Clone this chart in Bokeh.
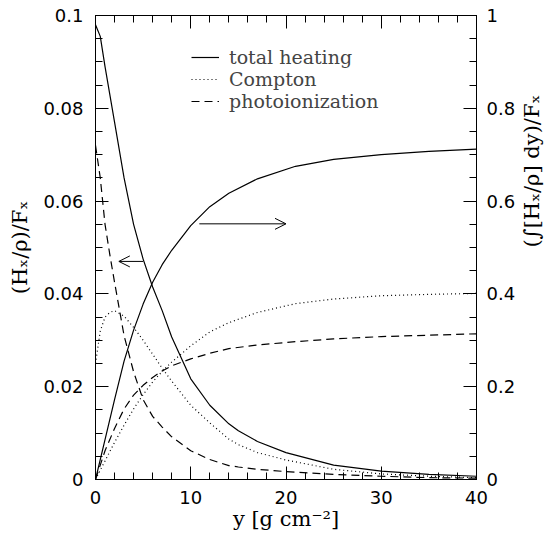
import math
from bokeh.plotting import figure
from bokeh.models import (Range1d, LinearAxis, SingleIntervalTicker, CustomJSTickFormatter,
                          Legend, LegendItem, Arrow, OpenHead)
from bokeh.embed import file_html
from bokeh.resources import INLINE

# ---- data ----
# differential heating (left axis): (H_x/rho)/F_x versus column y [g cm^-2]
y_diff = [0, 0.5, 1, 1.5, 2, 3, 4, 5, 6, 7, 8, 10, 12, 14, 15, 17, 20, 25, 30, 35, 40]
total_heating = [0.098, 0.0955, 0.089, 0.083, 0.077, 0.065, 0.055, 0.0475, 0.0415, 0.0364,
                 0.0307, 0.0217, 0.016, 0.012, 0.0105, 0.0082, 0.0058, 0.0031, 0.0018,
                 0.0011, 0.0007]
compton = [0.025, 0.032, 0.035, 0.036, 0.0364, 0.0352, 0.0328, 0.030, 0.027, 0.024,
           0.0212, 0.016, 0.0122, 0.0087, 0.0075, 0.0058, 0.0042, 0.0022, 0.0012,
           0.0007, 0.0004]
photoionization = [0.072, 0.065, 0.055, 0.0485, 0.0425, 0.031, 0.0232, 0.0172, 0.0136, 0.0113,
                   0.0092, 0.0062, 0.0043, 0.0030, 0.0027, 0.0022, 0.0017, 0.0011, 0.0007,
                   0.0004, 0.0003]

# cumulative heating (right axis)
y_cum = [0, 1, 2, 3, 4, 5, 6, 7, 8, 10, 12, 14, 17, 21, 25, 30, 35, 40]
total_cum = [0, 0.086, 0.172, 0.255, 0.322, 0.378, 0.425, 0.463, 0.494, 0.547, 0.588, 0.617,
             0.648, 0.675, 0.690, 0.700, 0.707, 0.712]
compton_cum = [0, 0.04, 0.08, 0.117, 0.152, 0.183, 0.21, 0.233, 0.253, 0.288, 0.318, 0.338,
               0.360, 0.379, 0.389, 0.396, 0.399, 0.401]
photo_cum = [0, 0.062, 0.11, 0.152, 0.182, 0.203, 0.22, 0.234, 0.245, 0.26, 0.272, 0.282,
             0.29, 0.297, 0.303, 0.308, 0.311, 0.314]

legend_labels = ["total heating", "Compton", "photoionization"]

# arrows (annotation positions)
left_arrow = dict(x_start=5.0, x_end=2.45, y=0.047)
right_arrow = dict(x_start=10.9, x_end=20.0, y=0.551)

SERIF = "DejaVu Serif"
SANS = "DejaVu Sans"

p = figure(output_backend="svg", toolbar_location=None,
           frame_width=381, frame_height=464,
           min_border_left=95, min_border_right=72, min_border_top=15, min_border_bottom=51,
           x_range=Range1d(0, 40), y_range=Range1d(0, 0.1))
p.extra_y_ranges = {"cum": Range1d(0, 1)}
p.xgrid.visible = False
p.ygrid.visible = False
p.outline_line_color = "black"
p.background_fill_color = "white"
p.border_fill_color = "white"

lw = 1.2
DOT = "1 3"
DASH = "8 5"
r_tot = p.line(y_diff, total_heating, line_color="black", line_width=lw)
r_com = p.line(y_diff, compton, line_color="black", line_width=lw, line_dash=DOT)
r_pho = p.line(y_diff, photoionization, line_color="black", line_width=lw, line_dash=DASH)
p.line(y_cum, total_cum, line_color="black", line_width=lw, y_range_name="cum")
p.line(y_cum, compton_cum, line_color="black", line_width=lw, line_dash=DOT, y_range_name="cum")
p.line(y_cum, photo_cum, line_color="black", line_width=lw, line_dash=DASH, y_range_name="cum")

def style_axis(ax, labels=True):
    ax.major_tick_in = 13
    ax.major_tick_out = 0
    ax.minor_tick_in = 7
    ax.minor_tick_out = 0
    ax.axis_line_color = "black"
    ax.major_tick_line_color = "black"
    ax.minor_tick_line_color = "black"
    if labels:
        ax.major_label_text_font = SANS
        ax.major_label_text_font_size = "18px"
        ax.major_label_text_color = "black"
        ax.axis_label_text_font = SERIF
        ax.axis_label_text_font_size = "21px"
        ax.axis_label_text_font_style = "normal"
        ax.axis_label_text_color = "black"
    else:
        ax.formatter = CustomJSTickFormatter(code="return '';")
        ax.major_label_standoff = 0
        ax.axis_label = None

# bottom
xa = p.xaxis[0]
xa.ticker = SingleIntervalTicker(interval=10, num_minor_ticks=5)
xa.formatter = CustomJSTickFormatter(code="return tick.toFixed(0);")
xa.axis_label = "y [g cm⁻²]"
xa.major_label_standoff = 11
xa.axis_label_standoff = 0
style_axis(xa)

# left
ya = p.yaxis[0]
ya.ticker = SingleIntervalTicker(interval=0.02, num_minor_ticks=4)
ya.formatter = CustomJSTickFormatter(
    code="return tick.toFixed(2).replace(/0+$/, '').replace(/\\.$/, '');")
ya.axis_label = "(Hₓ/ρ)/Fₓ"
ya.major_label_standoff = 12
ya.axis_label_standoff = 8
style_axis(ya)

# right
ra = LinearAxis(y_range_name="cum")
ra.ticker = SingleIntervalTicker(interval=0.2, num_minor_ticks=4)
ra.formatter = CustomJSTickFormatter(
    code="return tick.toFixed(1).replace(/0+$/, '').replace(/\\.$/, '');")
ra.axis_label = "(∫[Hₓ/ρ] dy)/Fₓ"
ra.major_label_standoff = 10
ra.axis_label_standoff = 14
ra.axis_label_orientation = math.pi / 2
style_axis(ra)
p.add_layout(ra, "right")

# top (ticks only)
ta = LinearAxis()
ta.ticker = SingleIntervalTicker(interval=10, num_minor_ticks=5)
style_axis(ta, labels=False)
p.add_layout(ta, "above")

# arrows
p.add_layout(Arrow(end=OpenHead(size=11, line_width=1, line_color="black"),
                   x_start=left_arrow["x_start"], y_start=left_arrow["y"],
                   x_end=left_arrow["x_end"], y_end=left_arrow["y"],
                   line_color="black", line_width=1))
p.add_layout(Arrow(end=OpenHead(size=11, line_width=1, line_color="black"),
                   x_start=right_arrow["x_start"], y_start=right_arrow["y"],
                   x_end=right_arrow["x_end"], y_end=right_arrow["y"],
                   line_color="black", line_width=1, y_range_name="cum"))

legend = Legend(items=[LegendItem(label=legend_labels[0], renderers=[r_tot]),
                       LegendItem(label=legend_labels[1], renderers=[r_com]),
                       LegendItem(label=legend_labels[2], renderers=[r_pho])],
                location=(96, 367), orientation="vertical",
                label_text_font=SERIF, label_text_font_size="19px",
                glyph_width=28, glyph_height=20, label_height=20, label_standoff=10,
                spacing=0, padding=0, margin=0,
                border_line_alpha=0, background_fill_alpha=0)
p.add_layout(legend)

open("out.html", "w").write(file_html(p, INLINE))
